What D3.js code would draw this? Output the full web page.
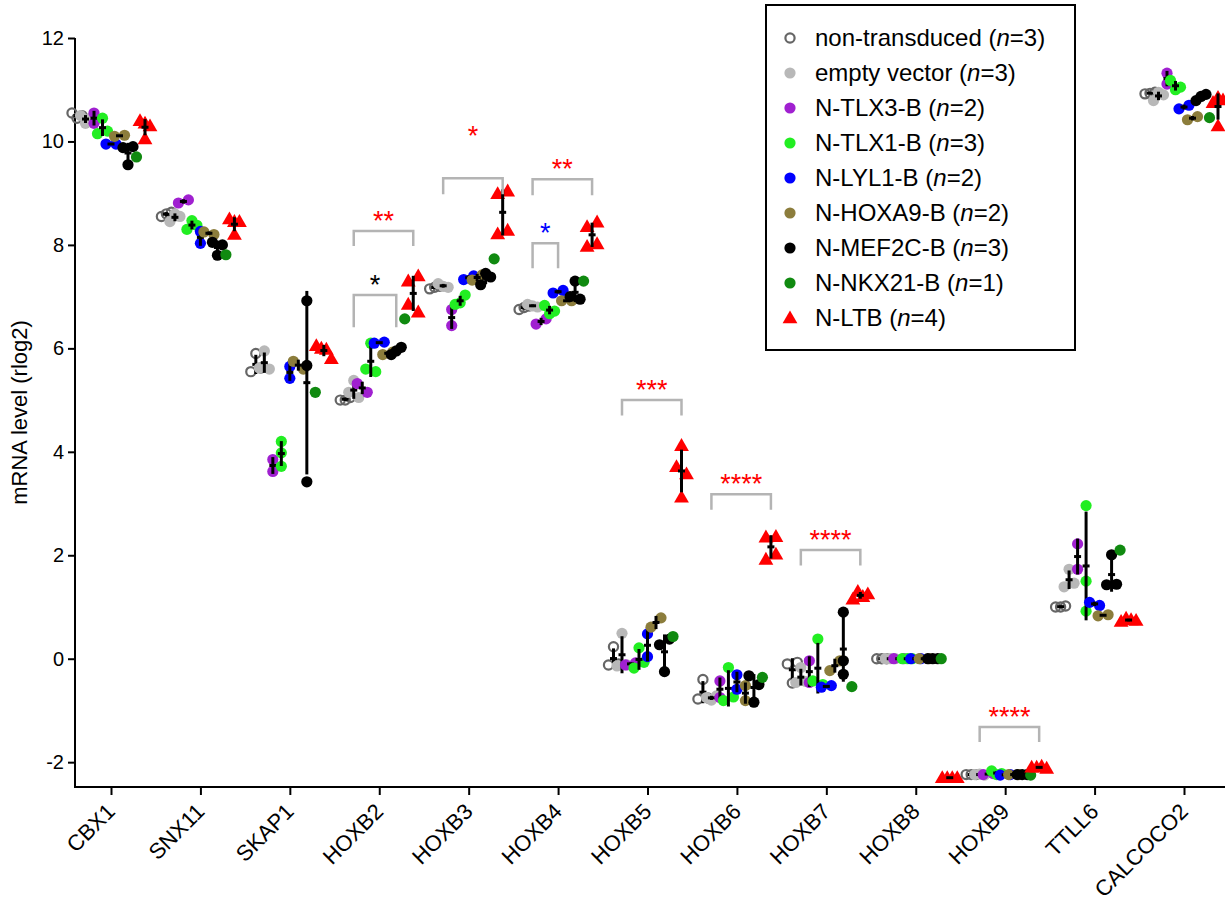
<!DOCTYPE html>
<html><head><meta charset="utf-8">
<script src="https://cdn.jsdelivr.net/npm/d3@7"></script>
<style>body{margin:0;background:#fff}svg{display:block}text{font-family:"Liberation Sans",Arial,sans-serif}</style>
</head><body><svg id="c" width="1225" height="909"></svg>
<script>
const categories = ["CBX1","SNX11","SKAP1","HOXB2","HOXB3","HOXB4","HOXB5","HOXB6","HOXB7","HOXB8","HOXB9","TTLL6","CALCOCO2"];
const yTicks = [-2,0,2,4,6,8,10,12];
const seriesNames = ["non-transduced","empty vector","N-TLX3-B","N-TLX1-B","N-LYL1-B","N-HOXA9-B","N-MEF2C-B","N-NKX21-B","N-LTB"];
const seriesN = [3,3,2,3,2,2,3,1,4];

const ntValues = [[10.55,10.45,10.5],[8.55,8.6,8.63],[5.9,5.55,5.62],[5.0,5.0,5.05],[7.15,7.18,7.2],[6.75,6.79,6.82],[0.23,-0.12,-0.1],[-0.4,-0.78,-0.76],[-0.1,-0.07,-0.47],[0,0,0],[-2.24,-2.24,-2.24],[1.0,1.0,1.02],[10.92,10.93,10.95]];
const evValues = [[10.5,10.35,10.45],[8.45,8.6,8.55],[5.95,5.62,5.6],[5.38,5.15,5.05],[7.25,7.2,7.18],[6.85,6.82,6.8],[0.49,-0.14,-0.12],[-0.75,-0.8,-0.72],[-0.17,-0.46,-0.44],[0,0,0],[-2.24,-2.23,-2.25],[1.73,1.39,1.46],[10.79,10.95,10.9]];
const tlx3Values = [[10.55,10.35],[8.81,8.87],[3.62,3.85],[5.32,5.15],[6.44,6.75],[6.47,6.57],[-0.12,-0.08],[-0.43,-0.75],[-0.04,-0.46],[0,0],[-2.24,-2.22],[2.22,1.73],[11.32,11.11]];
const tlx1Values = [[10.45,10.15,10.2],[8.3,8.47,8.38],[4.2,3.98,3.72],[5.6,5.55,6.1],[6.85,6.88,7.03],[6.83,6.67,6.72],[-0.18,0.21,-0.07],[-0.17,-0.81,-0.74],[0.38,-0.43,-0.5],[0,0,0],[-2.17,-2.24,-2.22],[2.96,1.5,0.92],[11.18,11.0,11.05]];
const lyl1Values = [[9.95,9.95],[8.03,8.26],[5.42,5.65],[6.1,6.12],[7.33,7.4],[7.07,7.12],[0.48,0.04],[-0.31,-0.59],[-0.55,-0.52],[0,0],[-2.25,-2.24],[1.09,1.03],[10.63,10.7]];
const hoxa9Values = [[10.1,10.12],[8.25,8.2],[5.75,5.6],[5.88,5.93],[7.32,7.42],[6.92,6.92],[0.61,0.79],[-0.52,-0.81],[-0.23,-0.04],[0,0],[-2.24,-2.24],[0.83,0.85],[10.42,10.48]];
const mef2cValues = [[9.55,9.88,9.9],[8.05,8.0,7.8],[6.92,5.67,3.42],[5.88,5.95,6.02],[7.23,7.45,7.38],[7.3,7.0,6.95],[0.27,0.38,-0.25],[-0.33,-0.84,-0.5],[0.9,-0.04,-0.3],[0,0,0],[-2.24,-2.24,-2.24],[2.01,1.43,1.44],[10.79,10.87,10.91]];
const nkx21Values = [[9.70],[7.81],[5.15],[6.57],[7.73],[7.3],[0.43],[-0.36],[-0.54],[0],[-2.25],[2.1],[10.46]];
const ltbValues = [[10.4,10.35,10.3,10.05],[8.5,8.45,8.45,8.2],[6.05,6.0,5.98,5.8],[7.3,7.4,6.85,6.7],[8.99,9.04,8.21,8.28],[8.35,8.44,7.97,8.02],[4.12,3.71,3.57,3.12],[2.35,2.36,1.92,2.02],[1.15,1.3,1.2,1.25],[-2.3,-2.3,-2.3,-2.3],[-2.1,-2.1,-2.08,-2.12],[0.72,0.78,0.75,0.74],[10.75,10.85,10.3,10.8]];

// significance annotations (compared with empty vector)
const sigGenes = ["HOXB2","HOXB2","HOXB3","HOXB4","HOXB4","HOXB5","HOXB6","HOXB7","HOXB9"];
const sigTarget = [8,6,8,8,4,8,8,8,8];
const sigLabels = ["**","*","*","**","*","***","****","****","****"];
const sigColors = ["#ff0000","#000000","#ff0000","#ff0000","#0000ff","#ff0000","#ff0000","#ff0000","#ff0000"];
const sigTop = [8.27,7.03,9.29,9.27,8.03,5.0,3.18,2.1,-1.32];
const sigBottom = [7.98,6.41,8.98,8.96,7.55,4.7,2.88,1.8,-1.61];
const sigTextLevel = [8.29,7.05,9.93,9.29,8.05,5.02,3.2,2.12,-1.3];

const allSeries = [ntValues,evValues,tlx3Values,tlx1Values,lyl1Values,hoxa9Values,mef2cValues,nkx21Values,ltbValues];
const colors = ["#666666","#b8b8b8","#a020d0","#22ee22","#0000ff","#8c7d3c","#000000","#108a10","#ff0000"];

const svg = d3.select("#c");
const W = 1225, H = 909;
svg.append("rect").attr("width",W).attr("height",H).attr("fill","#fff");

const axisX = 75, axisBottomY = 787;
const y = d3.scaleLinear().domain([-2.48,12]).range([axisBottomY,38]);
const x = d3.scalePoint().domain(categories).range([111,1184]);
const groupStep = 8.5;
const gx = (cat,k) => x(cat) + (k-4)*groupStep;

// axes
const ya = svg.append("g").attr("transform",`translate(${axisX},0)`)
  .call(d3.axisLeft(y).tickValues(yTicks).tickFormat(d=>String(d)).tickSize(7).tickSizeOuter(0));
ya.selectAll("path,line").attr("stroke","#000").attr("stroke-width",2);
ya.selectAll("text").attr("font-size",20).attr("fill","#000").attr("x",-11);
ya.select(".domain").remove();
svg.append("line").attr("x1",axisX).attr("x2",axisX).attr("y1",y(12)).attr("y2",axisBottomY+1).attr("stroke","#000").attr("stroke-width",2);

const xa = svg.append("g").attr("transform",`translate(0,${axisBottomY})`)
  .call(d3.axisBottom(x).tickSize(8).tickSizeOuter(0));
xa.select(".domain").remove();
xa.selectAll("line").attr("stroke","#000").attr("stroke-width",2);
xa.selectAll("text").attr("font-size",22).attr("fill","#000")
  .attr("text-anchor","end").attr("transform","translate(-6,15) rotate(-45)").attr("dy","0.7em").attr("y",0);
svg.append("line").attr("x1",axisX-1).attr("x2",W).attr("y1",axisBottomY).attr("y2",axisBottomY).attr("stroke","#000").attr("stroke-width",2);

svg.append("text").attr("transform",`translate(27,${(y(12)+axisBottomY)/2}) rotate(-90)`)
  .attr("text-anchor","middle").attr("font-size",22).text("mRNA level (rlog2)");

// spread points horizontally when they overlap
function spread(vals){
  const idx = vals.map((v,i)=>i).sort((a,b)=>y(vals[a])-y(vals[b]));
  const off = new Array(vals.length).fill(0);
  let clusters = [], cur = [idx[0]];
  for (let j=1;j<idx.length;j++){
    if (Math.abs(y(vals[idx[j]])-y(vals[cur[cur.length-1]]))<10) cur.push(idx[j]);
    else { clusters.push(cur); cur=[idx[j]]; }
  }
  clusters.push(cur);
  clusters.forEach(c=>{
    const m=c.length, sp = m===2?10:5;
    c.slice().sort((a,b)=>a-b).forEach((i,j)=>{ off[i]=(j-(m-1)/2)*sp; });
  });
  return off;
}

const tri = d3.symbol().type(d3.symbolTriangle).size(95);
const plot = svg.append("g");
categories.forEach((cat,ci)=>{
  allSeries.forEach((ser,k)=>{
    const vals = ser[ci];
    const off = spread(vals);
    const cx = gx(cat,k);
    const g = plot.append("g");
    vals.forEach((v,i)=>{
      if (k===8){
        g.append("path").attr("d",tri).attr("transform",`translate(${cx+off[i]},${y(v)+1})`).attr("fill",colors[k]);
      } else if (k===0){
        g.append("circle").attr("cx",cx+off[i]).attr("cy",y(v)).attr("r",4.6).attr("fill","none").attr("stroke",colors[k]).attr("stroke-width",2.2);
      } else {
        g.append("circle").attr("cx",cx+off[i]).attr("cy",y(v)).attr("r",5.6).attr("fill",colors[k]);
      }
    });
    if (vals.length>1){
      const m = d3.mean(vals), sd = d3.deviation(vals);
      g.append("line").attr("x1",cx).attr("x2",cx).attr("y1",y(m-sd)).attr("y2",y(m+sd)).attr("stroke","#000").attr("stroke-width",3);
      g.append("line").attr("x1",cx-3.5).attr("x2",cx+3.5).attr("y1",y(m)).attr("y2",y(m)).attr("stroke","#000").attr("stroke-width",3);
    }
  });
});

// significance brackets
sigGenes.forEach((gene,i)=>{
  const x1 = gx(gene,1), x2 = gx(gene,sigTarget[i]);
  const t = y(sigTop[i]), b = y(sigBottom[i]);
  svg.append("path").attr("d",`M${x1},${b}V${t}H${x2}V${b}`).attr("fill","none").attr("stroke","#b4b4b4").attr("stroke-width",2.5);
  svg.append("text").attr("x",(x1+x2)/2).attr("y",y(sigTextLevel[i])).attr("text-anchor","middle").attr("font-size",27).attr("fill",sigColors[i]).text(sigLabels[i]);
});

// legend
const lg = svg.append("g");
lg.append("rect").attr("x",766).attr("y",5).attr("width",309).attr("height",345).attr("fill","#fff").attr("stroke","#000").attr("stroke-width",2);
seriesNames.forEach((name,k)=>{
  const ly = 38 + k*35;
  if (k===8) lg.append("path").attr("d",tri).attr("transform",`translate(790,${ly+1})`).attr("fill",colors[k]);
  else if (k===0) lg.append("circle").attr("cx",790).attr("cy",ly).attr("r",4.6).attr("fill","none").attr("stroke",colors[k]).attr("stroke-width",2.2);
  else lg.append("circle").attr("cx",790).attr("cy",ly).attr("r",5.6).attr("fill",colors[k]);
  const t = lg.append("text").attr("x",815).attr("y",ly+8).attr("font-size",24);
  t.append("tspan").text(name+" (");
  t.append("tspan").attr("font-style","italic").text("n");
  t.append("tspan").text("="+seriesN[k]+")");
});
</script></body></html>
